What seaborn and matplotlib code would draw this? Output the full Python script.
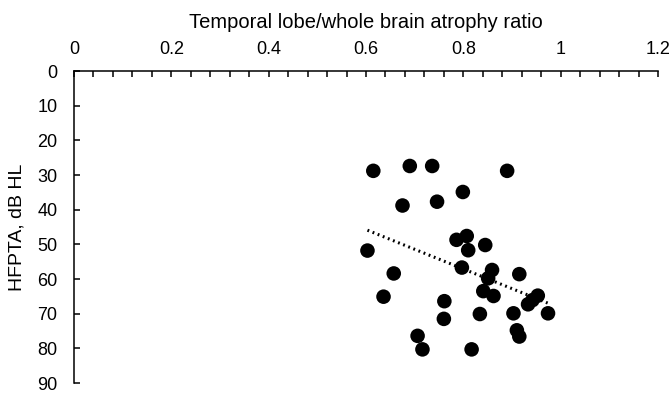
import matplotlib
matplotlib.use("Agg")
import matplotlib.pyplot as plt
import seaborn as sns
import numpy as np
import pandas as pd
from matplotlib.ticker import MultipleLocator

ratio = [0.615, 0.690, 0.736, 0.890, 0.799, 0.675, 0.746, 0.786, 0.807, 0.845,
         0.810, 0.603, 0.797, 0.859, 0.915, 0.657, 0.851, 0.841, 0.862, 0.636,
         0.761, 0.760, 0.953, 0.942, 0.933, 0.974, 0.903, 0.834, 0.910, 0.915,
         0.706, 0.716, 0.817]
hfpta = [28.8, 27.4, 27.4, 28.8, 34.9, 38.8, 37.7, 48.7, 47.6, 50.2,
         51.7, 51.8, 56.7, 57.4, 58.6, 58.4, 59.8, 63.5, 64.9, 65.1,
         66.4, 71.5, 64.8, 66.1, 67.3, 69.9, 69.9, 70.1, 74.8, 76.6,
         76.4, 80.3, 80.3]
x_ticks = [0, 0.2, 0.4, 0.6, 0.8, 1.0, 1.2]
x_tick_labels = ["0", "0.2", "0.4", "0.6", "0.8", "1", "1.2"]
y_ticks = [0, 10, 20, 30, 40, 50, 60, 70, 80, 90]

df = pd.DataFrame({"ratio": ratio, "hfpta": hfpta})

sns.set_theme(style="white")
plt.rcParams["font.family"] = ["Liberation Sans", "DejaVu Sans"]
plt.rcParams["text.color"] = "black"
plt.rcParams["axes.labelcolor"] = "black"
plt.rcParams["xtick.color"] = "black"
plt.rcParams["ytick.color"] = "black"

fig = plt.figure(figsize=(6.72, 3.95), dpi=100)
ax = fig.add_axes([74/672, 1-383/395, (658-74)/672, (383-71)/395])

sns.regplot(data=df, x="ratio", y="hfpta", ax=ax, scatter=False, ci=None,
            truncate=True, color="black",
            line_kws={"linestyle": (0, (0.6, 1.2)), "linewidth": 2.2})
sns.scatterplot(data=df, x="ratio", y="hfpta", ax=ax, color="black", s=110,
                edgecolor="none", zorder=3, legend=False)

ax.set_xlim(0, 1.2)
ax.set_ylim(90, 0)
ax.xaxis.tick_top()
ax.xaxis.set_label_position("top")
ax.set_xticks(x_ticks)
ax.set_xticklabels(x_tick_labels)
ax.xaxis.set_minor_locator(MultipleLocator(0.04))
ax.set_yticks(y_ticks)
ax.set_yticklabels([str(v) for v in y_ticks])

ax.tick_params(axis="x", which="both", direction="in", top=True, bottom=False,
               length=4, width=1.1, color="black", labelcolor="black",
               labelsize=13, pad=9)
ax.tick_params(axis="y", which="major", direction="in", left=True,
               length=4, width=1.1, color="black", labelcolor="black",
               labelsize=13, pad=12)

for side in ["right", "bottom"]:
    ax.spines[side].set_visible(False)
for side in ["left", "top"]:
    ax.spines[side].set_color("black")
    ax.spines[side].set_linewidth(1.1)

ax.set_xlabel("Temporal lobe/whole brain atrophy ratio", fontsize=14.5,
              labelpad=10, color="black")
ax.set_ylabel("HFPTA, dB HL", fontsize=14, labelpad=8, color="black")
ax.grid(False)

fig.savefig("out.png", dpi=100)
